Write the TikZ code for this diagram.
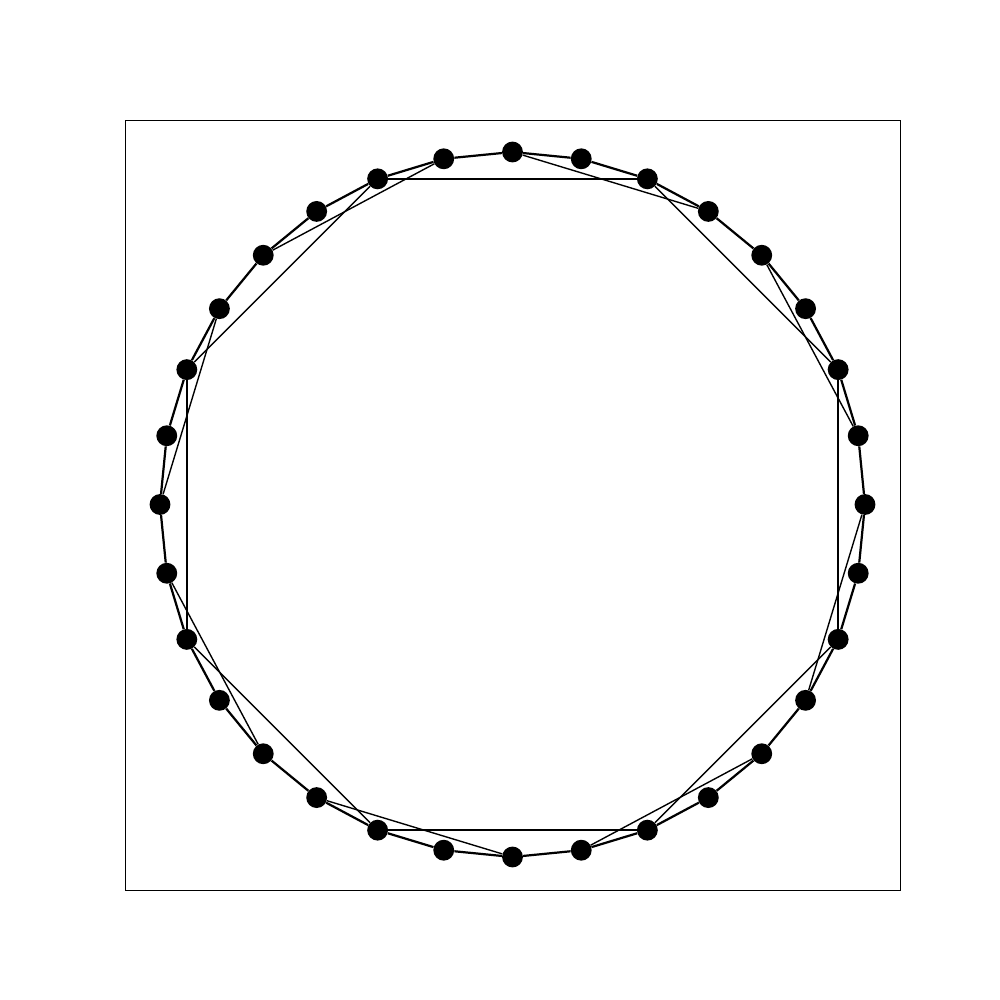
\documentclass[tikz,border=0pt]{standalone}
\usetikzlibrary{backgrounds}
\begin{document}
\begin{tikzpicture}[x=0.254mm,y=0.254mm]
    \tikzstyle{vertex}=[circle,fill=black,minimum size=5.3mm,inner sep=0pt]
    \tikzstyle{ring edge}=[draw=black,line width=1.6pt]
    \tikzstyle{chord}=[draw=black,line width=1pt]
    \useasboundingbox (-512.5,-495.5) rectangle (487.5,504.5);
    % frame
    \draw[line width=0.7pt] (-387.5,-385.5) rectangle (387.5,384.5);
    % the 32 vertices, clockwise from the top
    \foreach \k in {0,...,31}
      \node[vertex] (v\k) at ({90-11.25*\k}:352.5) {};
    \begin{scope}[on background layer]
      % ring
      \foreach \k [evaluate=\k as \j using {int(mod(\k+1,32))}] in {0,...,31}
        \path[ring edge] (v\k) -- (v\j);
      % chords of length 3 and 4
      \foreach \k [evaluate=\k as \j using {int(mod(\k+3,32))}] in {0,4,...,28}
        \path[chord] (v\k) -- (v\j);
      \foreach \k [evaluate=\k as \j using {int(mod(\k+4,32))}] in {2,6,...,30}
        \path[chord] (v\k) -- (v\j);
    \end{scope}
\end{tikzpicture}
\end{document}
